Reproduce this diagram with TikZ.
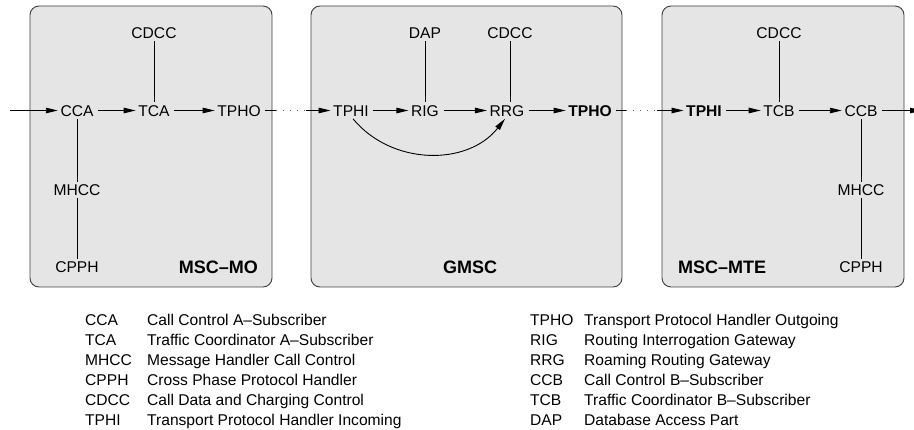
\documentclass[tikz,border=0pt]{standalone}
\usepackage{fontspec}
\setmainfont{Liberation Sans}
\usetikzlibrary{arrows.meta}
\begin{document}
\begin{tikzpicture}[x=1pt,y=-1pt,
  every node/.style={font=\fontsize{15.6}{18}\selectfont},
  unit/.style={inner sep=2.5pt, text height=11.2pt, text depth=0pt},
  boldunit/.style={unit, font=\fontsize{15.6}{18}\selectfont\bfseries},
  boxlabel/.style={inner sep=0pt, text height=12.9pt, text depth=0pt, font=\fontsize{18}{21}\selectfont\bfseries},
  msc/.style={draw=black!75, fill=black!10, line width=0.9pt, rounded corners=9pt},
  link/.style={line width=0.9pt},
  flow/.style={line width=0.9pt, -{Triangle[length=12pt,width=5.5pt]}, shorten <=2pt},
  gap/.style={line width=0.9pt, black!60, dash pattern=on 1pt off 6pt},
  abbr/.style={anchor=base west, inner sep=0pt},
  desc/.style={anchor=base west, inner sep=0pt}
]
\useasboundingbox (0,0) rectangle (914,430);
\clip (0,0) rectangle (914,430);

% exchange boxes
\draw[msc] (30,6) rectangle (272,287);
\draw[msc] (311,6) rectangle (622,287);
\draw[msc] (662,6) rectangle (904,287);

% MSC-MO
\node[unit] (cca) at (77,110.5) {CCA};
\node[unit] (tca) at (154,110.5) {TCA};
\node[unit] (tpho1) at (239,110.5) {TPHO};
\node[unit] (cdcc1) at (154,33) {CDCC};
\node[unit] (mhcc1) at (77,190) {MHCC};
\node[unit] (cpph1) at (77,267) {CPPH};
\node[boxlabel, anchor=east] (mo) at (258,267) {MSC–MO};

% GMSC
\node[unit] (tphi2) at (351,110.5) {TPHI};
\node[unit] (rig) at (425,110.5) {RIG};
\node[unit] (rrg) at (507,110.5) {RRG};
\node[boldunit] (tpho2) at (590,110.5) {TPHO};
\node[unit] (dap) at (425,33) {DAP};
\node[unit] (cdcc2) at (510,33) {CDCC};
\node[boxlabel] (gmsc) at (470,267) {GMSC};

% MSC-MTE
\node[boldunit] (tphi3) at (704,110.5) {TPHI};
\node[unit] (tcb) at (779,110.5) {TCB};
\node[unit] (ccb) at (861,110.5) {CCB};
\node[unit] (cdcc3) at (779,33) {CDCC};
\node[unit] (mhcc3) at (861,190) {MHCC};
\node[unit] (cpph3) at (861,267) {CPPH};
\node[boxlabel, anchor=west] (mte) at (678,267) {MSC–MTE};

% free ends of the connectors
\coordinate (in) at (10,110.5);
\coordinate (out) at (922,110.5);
\coordinate (o1) at (276,110.5);
\coordinate (i2) at (306,110.5);
\coordinate (o2) at (626,110.5);
\coordinate (i3) at (657,110.5);

% signal flow
\draw[flow, shorten <=0pt] (in) -- (cca);
\draw[flow] (cca) -- (tca);
\draw[flow] (tca) -- (tpho1);
\draw[link, shorten <=2pt] (tpho1) -- (o1);
\draw[gap] (o1) -- (i2);
\draw[flow, shorten <=0pt] (i2) -- (tphi2);
\draw[flow] (tphi2) -- (rig);
\draw[flow] (rig) -- (rrg);
\draw[flow] (rrg) -- (tpho2);
\draw[link, shorten <=2pt] (tpho2) -- (o2);
\draw[gap] (o2) -- (i3);
\draw[flow, shorten <=0pt] (i3) -- (tphi3);
\draw[flow] (tphi3) -- (tcb);
\draw[flow] (tcb) -- (ccb);
\draw[flow] (ccb) -- (out);
\draw[flow, shorten <=0pt] ([xshift=2pt]tphi2.south) .. controls (392,166) and (468,166) .. ([xshift=-2pt]rrg.south);

% attached units
\draw[link] (cdcc1) -- (tca);
\draw[link] (cca) -- (mhcc1);
\draw[link] (mhcc1) -- (cpph1);
\draw[link] (dap) -- (rig);
\draw[link] (cdcc2) -- (rrg.north -| cdcc2);
\draw[link] (cdcc3) -- (tcb);
\draw[link] (ccb) -- (mhcc3);
\draw[link] (mhcc3) -- (cpph3);

% legend
\node[abbr] (k1) at (85,325.6) {CCA};
\node[desc] (d1) at (147,325.6) {Call Control A–Subscriber};
\node[abbr] (k2) at (85,345.6) {TCA};
\node[desc] (d2) at (147,345.6) {Traffic Coordinator A–Subscriber};
\node[abbr] (k3) at (85,365.6) {MHCC};
\node[desc] (d3) at (147,365.6) {Message Handler Call Control};
\node[abbr] (k4) at (85,385.6) {CPPH};
\node[desc] (d4) at (147,385.6) {Cross Phase Protocol Handler};
\node[abbr] (k5) at (85,405.6) {CDCC};
\node[desc] (d5) at (147,405.6) {Call Data and Charging Control};
\node[abbr] (k6) at (85,425.6) {TPHI};
\node[desc] (d6) at (147,425.6) {Transport Protocol Handler Incoming};

\node[abbr] (k7) at (530,325.6) {TPHO};
\node[desc] (d7) at (584,325.6) {Transport Protocol Handler Outgoing};
\node[abbr] (k8) at (530,345.6) {RIG};
\node[desc] (d8) at (584,345.6) {Routing Interrogation Gateway};
\node[abbr] (k9) at (530,365.6) {RRG};
\node[desc] (d9) at (584,365.6) {Roaming Routing Gateway};
\node[abbr] (k10) at (530,385.6) {CCB};
\node[desc] (d10) at (584,385.6) {Call Control B–Subscriber};
\node[abbr] (k11) at (530,405.6) {TCB};
\node[desc] (d11) at (584,405.6) {Traffic Coordinator B–Subscriber};
\node[abbr] (k12) at (530,425.6) {DAP};
\node[desc] (d12) at (584,425.6) {Database Access Part};
\end{tikzpicture}
\end{document}
